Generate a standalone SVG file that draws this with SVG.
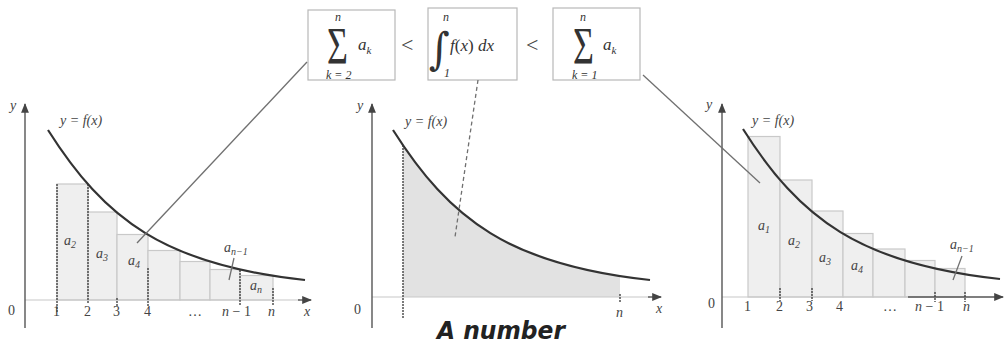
<svg xmlns="http://www.w3.org/2000/svg" width="1005" height="345" viewBox="0 0 1005 345">
<style>
.lbl{font-family:"Liberation Serif",serif;font-style:italic;font-size:14px;fill:#444}
.num{font-family:"Liberation Serif",serif;font-size:14px;fill:#444}
.lt{font-family:"Liberation Serif",serif;font-size:22px;fill:#444}
.sig{font-family:"Liberation Serif",serif;font-size:36px;fill:#333}
.mth{font-family:"Liberation Serif",serif;font-style:italic;font-size:17px;fill:#333}
.lim{font-family:"Liberation Serif",serif;font-style:italic;font-size:12px;fill:#333}
.box{fill:#fff;stroke:#b8b8b8;stroke-width:1.2}
.curve{fill:none;stroke:#333;stroke-width:2.2}
.rect{fill:#efefef;stroke:#c9c9c9;stroke-width:1.2}
.axis{stroke:#555;stroke-width:1.4;fill:none}
.faint{stroke:#c8c8c8;stroke-width:1.2;fill:none}
.dark{stroke:#444;stroke-width:1.4;stroke-dasharray:2 1}
.conn{stroke:#707070;stroke-width:1.3;fill:none}
</style>
<defs>
<marker id="arr" viewBox="0 0 10 10" refX="9" refY="5" markerWidth="7" markerHeight="7" orient="auto-start-reverse">
<path d="M0,1 L10,5 L0,9 Z" fill="#444"/>
</marker>
<path id="fcurve" d="M48,130 C105,220 165,265 305,280"/>
<clipPath id="shadeclip"><rect x="403" y="100" width="217" height="200"/></clipPath>
</defs>

<g id="formula-lower">
<rect class="box" x="308" y="10" width="87" height="70"/>
<text class="sig" transform="translate(327,64) scale(1,1.45)">Σ</text>
<text class="lim" x="335" y="21">n</text>
<text class="lim" x="326" y="79">k = 2</text>
<text class="mth" x="358" y="50">a<tspan font-size="11" dy="4">k</tspan></text>
</g>
<g id="less1"><text class="lt" x="401" y="52">&lt;</text></g>
<g id="formula-integral">
<rect class="box" x="428" y="8" width="89" height="72"/>
<text font-family="DejaVu Serif,serif" font-size="40" fill="#333" transform="translate(429,64) scale(1,1.1)">∫</text>
<text class="lim" x="443" y="21">n</text>
<text class="lim" x="444" y="77" font-style="normal">1</text>
<text class="mth" x="450" y="51">f<tspan font-style="normal">(</tspan>x<tspan font-style="normal">)</tspan> dx</text>
</g>
<g id="less2"><text class="lt" x="526" y="52">&lt;</text></g>
<g id="formula-upper">
<rect class="box" x="553" y="8" width="87" height="72"/>
<text class="sig" transform="translate(573,64) scale(1,1.45)">Σ</text>
<text class="lim" x="580" y="21">n</text>
<text class="lim" x="572" y="79">k = 1</text>
<text class="mth" x="603" y="50">a<tspan font-size="11" dy="4">k</tspan></text>
</g>

<g id="graph-left">
<rect class="rect" x="57" y="184" width="31" height="116"/>
<rect class="rect" x="88" y="212" width="29" height="88"/>
<rect class="rect" x="117" y="234.5" width="31" height="65.5"/>
<rect class="rect" x="148" y="250.5" width="32" height="49.5"/>
<rect class="rect" x="180" y="261.5" width="30" height="38.5"/>
<rect class="rect" x="210" y="269.5" width="30" height="30.5"/>
<rect class="rect" x="240" y="275.5" width="33" height="24.5"/>
<line class="faint" x1="25" y1="300" x2="300" y2="300"/>
<line class="axis" x1="298" y1="300" x2="311" y2="300" marker-end="url(#arr)"/>
<line class="axis" x1="25" y1="328" x2="25" y2="104" marker-end="url(#arr)"/>
<line class="dark" x1="57" y1="184" x2="57" y2="312"/>
<line class="dark" x1="88" y1="184" x2="88" y2="304"/>
<line class="dark" x1="117" y1="298" x2="117" y2="306"/>
<line class="dark" x1="148" y1="268" x2="148" y2="306"/>
<line class="dark" x1="240" y1="270" x2="240" y2="306"/>
<line class="dark" x1="273" y1="288" x2="273" y2="306"/>
<use href="#fcurve" class="curve"/>
<text class="lbl" x="10" y="110">y</text>
<text class="lbl" x="60" y="125">y = f(x)</text>
<text class="num" x="8" y="315">0</text>
<text class="num" x="53" y="316">1</text>
<text class="num" x="84" y="316">2</text>
<text class="num" x="113" y="316">3</text>
<text class="num" x="144" y="316">4</text>
<text class="num" x="188" y="316">…</text>
<text class="lbl" x="222" y="316">n <tspan font-style="normal">− 1</tspan></text>
<text class="lbl" x="268" y="316">n</text>
<text class="lbl" x="304" y="316">x</text>
<text class="lbl" x="64" y="245">a<tspan font-size="10" dy="3">2</tspan></text>
<text class="lbl" x="96" y="258">a<tspan font-size="10" dy="3">3</tspan></text>
<text class="lbl" x="128" y="265">a<tspan font-size="10" dy="3">4</tspan></text>
<text class="lbl" x="224" y="252">a<tspan font-size="10" dy="3">n−1</tspan></text>
<line class="conn" x1="234" y1="258" x2="229" y2="280"/>
<text class="lbl" x="250" y="290">a<tspan font-size="10" dy="3">n</tspan></text>
</g>

<g id="graph-middle">
<g clip-path="url(#shadeclip)">
<path d="M48,130 C105,220 165,265 305,280 L305,297 L48,297 Z" transform="translate(345,0)" fill="#e2e2e2"/>
</g>
<line class="faint" x1="372" y1="297" x2="650" y2="297"/>
<line class="axis" x1="648" y1="297" x2="661" y2="297" marker-end="url(#arr)"/>
<line class="axis" x1="372" y1="328" x2="372" y2="104" marker-end="url(#arr)"/>
<line class="dark" x1="403" y1="145" x2="403" y2="319"/>
<line class="dark" x1="620" y1="294" x2="620" y2="302"/>
<use href="#fcurve" class="curve" transform="translate(345,0)"/>
<text class="lbl" x="357" y="110">y</text>
<text class="lbl" x="405" y="126">y = f(x)</text>
<text class="num" x="354" y="314">0</text>
<text class="lbl" x="616" y="317">n</text>
<text class="lbl" x="656" y="313">x</text>
</g>

<g id="graph-right">
<rect class="rect" x="748" y="136.5" width="32" height="160.5"/>
<rect class="rect" x="780" y="180" width="32" height="117"/>
<rect class="rect" x="812" y="211" width="31" height="86"/>
<rect class="rect" x="843" y="233.5" width="30" height="63.5"/>
<rect class="rect" x="873" y="249" width="32" height="48"/>
<rect class="rect" x="905" y="260.5" width="30" height="36.5"/>
<rect class="rect" x="935" y="268.5" width="30" height="28.5"/>
<line class="faint" x1="722" y1="297" x2="908" y2="297"/>
<line class="axis" x1="908" y1="297" x2="1003" y2="297" marker-end="url(#arr)"/>
<line class="axis" x1="722" y1="328" x2="722" y2="104" marker-end="url(#arr)"/>
<line class="dark" x1="780" y1="288" x2="780" y2="301"/>
<line class="dark" x1="812" y1="288" x2="812" y2="301"/>
<line class="dark" x1="935" y1="292" x2="935" y2="302"/>
<line class="dark" x1="965" y1="292" x2="965" y2="302"/>
<use href="#fcurve" class="curve" transform="translate(695,-1)"/>
<text class="lbl" x="706" y="109">y</text>
<text class="lbl" x="752" y="125">y = f(x)</text>
<text class="num" x="708" y="308">0</text>
<text class="num" x="744" y="311">1</text>
<text class="num" x="776" y="311">2</text>
<text class="num" x="806" y="311">3</text>
<text class="num" x="836" y="311">4</text>
<text class="num" x="883" y="311">…</text>
<text class="lbl" x="915" y="311">n <tspan font-style="normal">− 1</tspan></text>
<text class="lbl" x="963" y="311">n</text>
<text class="lbl" x="758" y="230">a<tspan font-size="10" dy="3">1</tspan></text>
<text class="lbl" x="788" y="245">a<tspan font-size="10" dy="3">2</tspan></text>
<text class="lbl" x="819" y="262">a<tspan font-size="10" dy="3">3</tspan></text>
<text class="lbl" x="851" y="270">a<tspan font-size="10" dy="3">4</tspan></text>
<text class="lbl" x="950" y="249">a<tspan font-size="10" dy="3">n−1</tspan></text>
<line class="conn" x1="962" y1="256" x2="953" y2="280"/>
</g>

<g id="connectors">
<line class="conn" x1="307" y1="62" x2="137" y2="243"/>
<line class="conn" x1="478" y1="80" x2="455" y2="237" stroke-dasharray="4 3" stroke="#555"/>
<line class="conn" x1="643" y1="75" x2="760" y2="183"/>
</g>

<g id="note">
<text x="437" y="339" font-family="DejaVu Sans,sans-serif" font-weight="bold" font-style="italic" font-size="25" fill="#222" textLength="128" lengthAdjust="spacingAndGlyphs">A number</text>
</g>
</svg>
